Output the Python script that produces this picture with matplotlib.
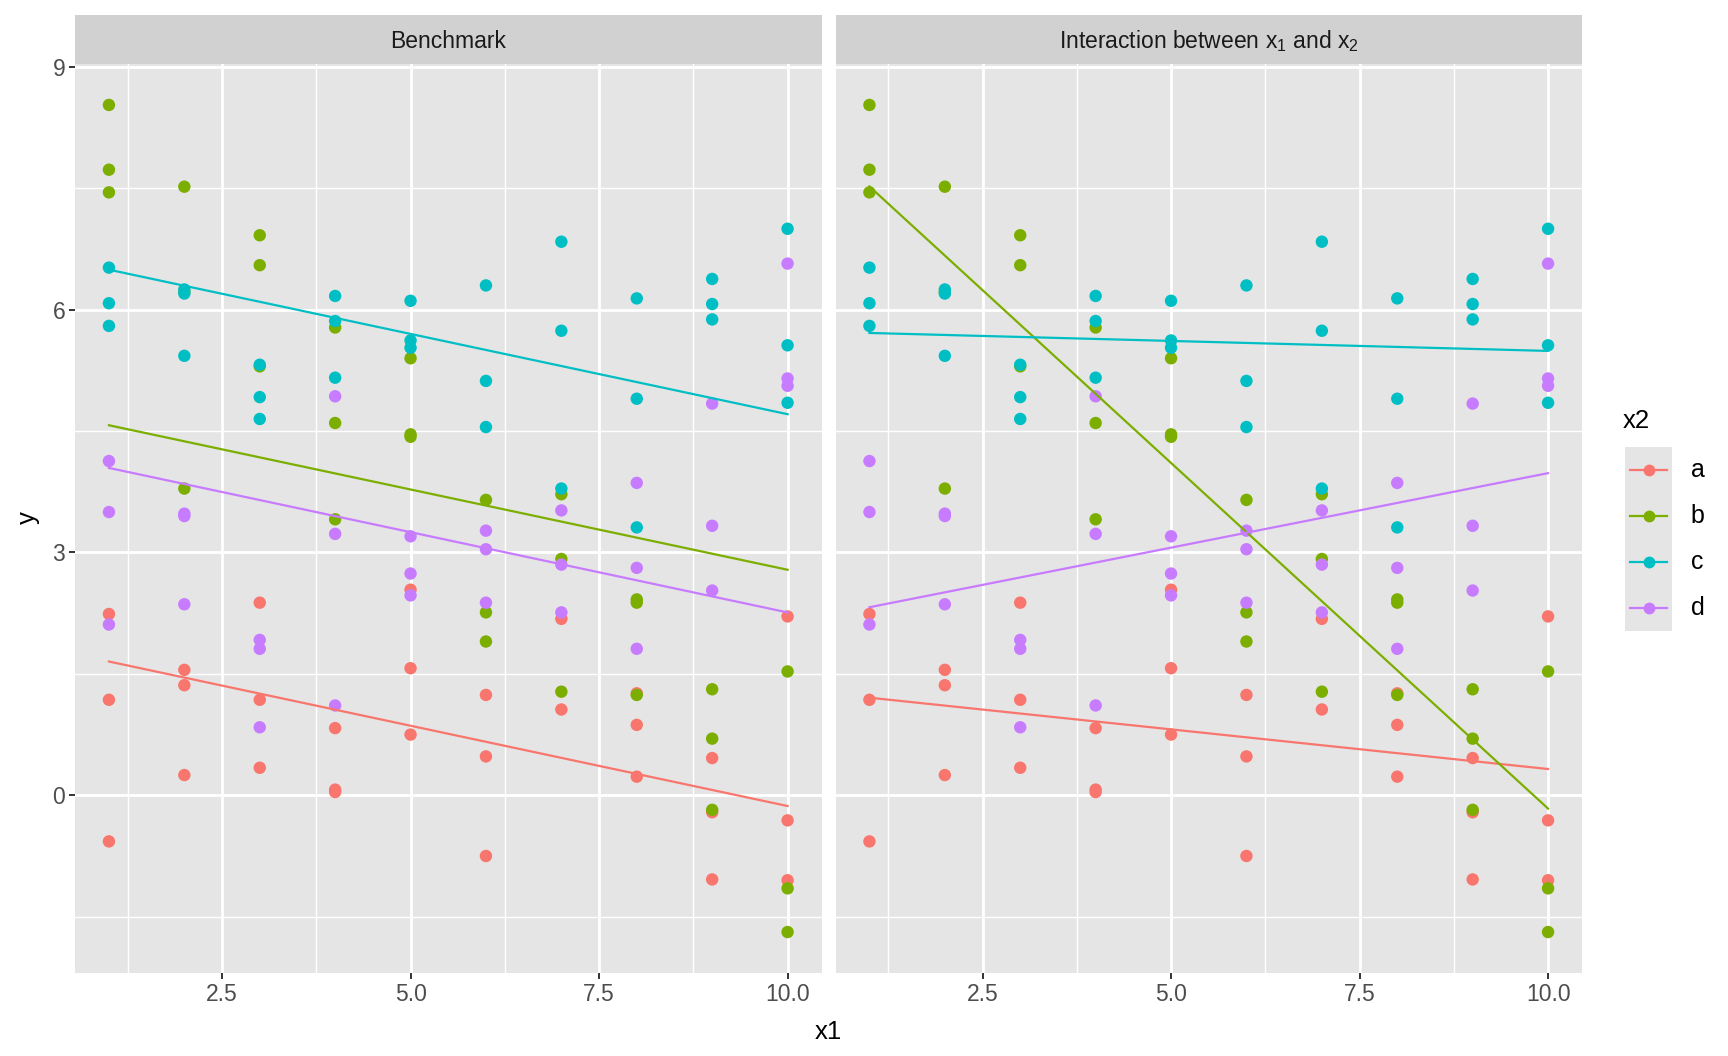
import matplotlib.pyplot as plt
import numpy as np

# data
groups = ['a', 'b', 'c', 'd']
colours = {'a': '#F8766D', 'b': '#7CAE00', 'c': '#00BFC4', 'd': '#C77CFF'}

x_a = [1, 1, 1, 2, 2, 2, 3, 3, 3, 4, 4, 4, 5, 5, 5, 6, 6, 6, 7, 7, 8, 8, 8, 9, 9, 9, 10, 10, 10]
y_a = [2.24, 1.18, -0.57, 1.55, 1.36, 0.25, 2.38, 1.18, 0.34, 0.83, 0.07, 0.04,
       2.54, 1.57, 0.75, 1.24, 0.48, -0.75, 2.18, 1.06, 1.26, 0.87, 0.23,
       0.46, -0.21, -1.04, 2.21, -0.31, -1.05]

x_b = [1, 1, 1, 2, 2, 2, 3, 3, 3, 4, 4, 4, 5, 5, 5, 6, 6, 6, 7, 7, 7, 8, 8, 8, 9, 9, 9, 10, 10, 10]
y_b = [8.53, 7.73, 7.45, 7.52, 6.22, 3.79, 6.92, 6.55, 5.30, 5.78, 4.60, 3.41,
       5.40, 4.46, 4.43, 3.65, 2.26, 1.90, 3.72, 2.92, 1.28, 2.42, 2.38, 1.24,
       1.31, 0.70, -0.18, 1.53, -1.15, -1.69]

x_c = [1, 1, 1, 2, 2, 2, 3, 3, 3, 4, 4, 4, 5, 5, 5, 6, 6, 6, 7, 7, 7, 8, 8, 8, 9, 9, 9, 10, 10, 10]
y_c = [6.52, 6.08, 5.80, 6.25, 6.20, 5.43, 5.32, 4.92, 4.65, 6.17, 5.86, 5.16,
       6.11, 5.62, 5.53, 6.30, 5.12, 4.55, 6.84, 5.74, 3.79, 6.14, 4.90, 3.31,
       6.38, 6.07, 5.88, 7.00, 5.56, 4.85]

x_d = [1, 1, 1, 2, 2, 2, 3, 3, 3, 4, 4, 4, 5, 5, 5, 6, 6, 6, 7, 7, 7, 8, 8, 8, 9, 9, 9, 10, 10, 10]
y_d = [4.13, 3.50, 2.11, 3.48, 3.45, 2.36, 1.92, 1.81, 0.84, 4.93, 3.23, 1.11,
       3.20, 2.74, 2.47, 3.27, 3.04, 2.38, 3.52, 2.85, 2.26, 3.86, 2.81, 1.81,
       4.84, 3.33, 2.53, 6.57, 5.15, 5.06]

xs = {'a': x_a, 'b': x_b, 'c': x_c, 'd': x_d}
ys = {'a': y_a, 'b': y_b, 'c': y_c, 'd': y_d}

panel_titles = ['Benchmark', r'Interaction between x$_1$ and x$_2$']
x_ticks = [2.5, 5.0, 7.5, 10.0]
y_ticks = [0, 3, 6, 9]

plt.rcParams['font.family'] = ['Liberation Sans', 'DejaVu Sans']
plt.rcParams['mathtext.fontset'] = 'custom'
plt.rcParams['mathtext.rm'] = 'Liberation Sans'
plt.rcParams['mathtext.it'] = 'Liberation Sans'

# fits: common slope (benchmark) and separate slopes (interaction)
x_all = np.concatenate([xs[g] for g in groups]).astype(float)
y_all = np.concatenate([ys[g] for g in groups])
X = [x_all]
for g in groups:
    X.append(np.concatenate([np.full(len(xs[h]), 1.0 if h == g else 0.0) for h in groups]))
X = np.column_stack(X)
coef = np.linalg.lstsq(X, y_all, rcond=None)[0]
bench = {g: (coef[0], coef[1 + i]) for i, g in enumerate(groups)}
inter = {g: tuple(np.polyfit(xs[g], ys[g], 1)) for g in groups}

W, H = 1728, 1056
fig = plt.figure(figsize=(W / 100, H / 100), dpi=100)

panel_bg = '#E5E5E5'
strip_bg = '#D1D1D1'
py = 64
pw, ph = 746.5, 909
lefts = [75, 835.5]

for k in range(2):
    ax = fig.add_axes([lefts[k] / W, 1 - (py + ph) / H, pw / W, ph / H])
    ax.set_facecolor(panel_bg)
    for s in ax.spines.values():
        s.set_visible(False)
    ax.set_xlim(0.55, 10.45)
    ax.set_ylim(-2.196, 9.036)
    ax.set_xticks(x_ticks)
    ax.set_xticklabels(['2.5', '5.0', '7.5', '10.0'])
    ax.set_xticks([1.25, 3.75, 6.25, 8.75], minor=True)
    ax.set_yticks(y_ticks)
    ax.set_yticks([-1.5, 1.5, 4.5, 7.5], minor=True)
    ax.grid(which='major', color='white', lw=2.0)
    ax.grid(which='minor', color='white', lw=1.0)
    ax.set_axisbelow(True)
    ax.tick_params(which='major', length=4, width=1.4, color='#333333',
                   labelsize=16.5, labelcolor='#4D4D4D', pad=3)
    ax.tick_params(which='minor', length=0)
    if k == 1:
        ax.tick_params(axis='y', which='major', length=0, labelleft=False)

    fits = bench if k == 0 else inter
    for g in groups:
        ax.scatter(xs[g], ys[g], s=80, color=colours[g], edgecolors='none', zorder=3)
    for g in groups:
        slope, icpt = fits[g]
        xl = np.array([min(xs[g]), max(xs[g])], dtype=float)
        ax.plot(xl, icpt + slope * xl, color=colours[g], lw=1.6, zorder=4)

    # strip
    sax = fig.add_axes([lefts[k] / W, 1 - py / H, pw / W, 49 / H])
    sax.set_facecolor(strip_bg)
    sax.set_xticks([])
    sax.set_yticks([])
    for s in sax.spines.values():
        s.set_visible(False)
    sax.text(0.5, 0.46, panel_titles[k], ha='center', va='center', fontsize=16.5,
             color='#1A1A1A', transform=sax.transAxes)

fig.text(828 / W, 1 - 1032 / H, 'x1', ha='center', va='center', fontsize=18.5)
fig.text(28 / W, 1 - 518 / H, 'y', ha='center', va='center', fontsize=18.5, rotation=90)

# legend
lax = fig.add_axes([1625 / W, 1 - 631 / H, 47 / W, 184 / H])
lax.set_facecolor(panel_bg)
lax.set_xlim(0, 1)
lax.set_ylim(0, 4)
lax.set_xticks([])
lax.set_yticks([])
for s in lax.spines.values():
    s.set_visible(False)
for i, g in enumerate(groups):
    yk = 3.5 - i
    lax.plot([0.1, 0.9], [yk, yk], color=colours[g], lw=1.6)
    lax.plot([0.5], [yk], 'o', color=colours[g], ms=8.5, mec='none')
    lax.text(1.4, yk, g, ha='left', va='center', fontsize=18, color='black')
fig.text(1623 / W, 1 - 421 / H, 'x2', ha='left', va='center', fontsize=18.5)

fig.savefig('out.png', dpi=100)
